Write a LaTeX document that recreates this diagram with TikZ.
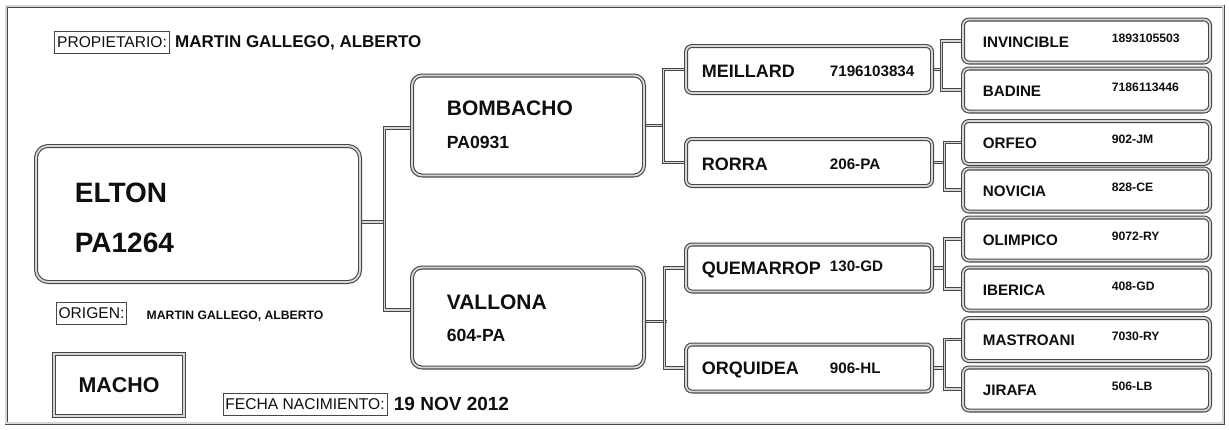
\documentclass[tikz,border=0pt]{standalone}
\usepackage{fontspec}
\setmainfont{Liberation Sans}
\usetikzlibrary{positioning, backgrounds}
\definecolor{rim}{gray}{0.28}
\definecolor{rimfill}{gray}{0.84}
\definecolor{ink}{gray}{0.06}
\tikzstyle{card} = [draw=rim, double=rimfill, double distance=0.9pt, line width=0.55pt, inner sep=0pt, text=ink]
\tikzstyle{foal} = [card, rounded corners=6pt, minimum width=162pt, minimum height=68pt]
\tikzstyle{sire} = [card, rounded corners=5pt, minimum width=116pt, minimum height=50pt]
\tikzstyle{grand} = [card, rounded corners=3pt, minimum width=123pt, minimum height=23.5pt]
\tikzstyle{great} = [card, rounded corners=3pt, minimum width=123.5pt, minimum height=21.5pt]
\tikzstyle{txt} = [inner sep=0pt, text depth=0pt, text=ink]
\tikzstyle{foalname} = [txt, font=\bfseries\fontsize{14}{16}\selectfont]
\tikzstyle{sirename} = [txt, font=\bfseries\fontsize{10.5}{12}\selectfont]
\tikzstyle{sireid} = [txt, font=\bfseries\fontsize{8.8}{10}\selectfont]
\tikzstyle{grandname} = [txt, font=\bfseries\fontsize{9}{10}\selectfont]
\tikzstyle{grandid} = [txt, font=\bfseries\fontsize{7.6}{9}\selectfont]
\tikzstyle{greatname} = [txt, font=\bfseries\fontsize{7.6}{9}\selectfont]
\tikzstyle{greatid} = [txt, font=\bfseries\fontsize{6.1}{7}\selectfont]
\tikzstyle{tag} = [draw=rim, line width=0.5pt, inner xsep=1.2pt, inner ysep=0pt, minimum height=11pt,
    text=ink, font=\fontsize{7.8}{9}\selectfont]
\tikzstyle{link} = [draw=rim, double=rimfill, double distance=0.7pt, line width=0.45pt]
\tikzstyle{pageframe} = [draw=rim, double=rimfill, double distance=0.6pt, line width=0.45pt]

\begin{document}
\begin{tikzpicture}[x=0.5pt, y=-0.5pt]
  \useasboundingbox (0,0) rectangle (1229,429);
  \draw[pageframe] (6,6) rectangle (1223,423);

  % header and footer
  \node (owner) [tag] at (112,42) {PROPIETARIO:};
  \node (ownername) [txt, font=\bfseries\fontsize{8.5}{10}\selectfont, right=2.5pt of owner] {MARTIN GALLEGO, ALBERTO};
  \node (origin) [tag] at (91.5,313) {ORIGEN:};
  \node (originname) [txt, font=\bfseries\fontsize{6.1}{7}\selectfont, right=9.5pt of origin, yshift=-1pt] {MARTIN GALLEGO, ALBERTO};
  \node (sex) [card, minimum width=65pt, minimum height=31pt, font=\bfseries\fontsize{10.7}{12}\selectfont] at (119,385) {MACHO};
  \node (birth) [tag] at (305,404) {FECHA NACIMIENTO:};
  \node (birthdate) [txt, font=\bfseries\fontsize{9.5}{11}\selectfont, right=3pt of birth] {19 NOV 2012};

  % animal
  \node (elton) [foal] at (198,214) {};
  \node (eltonname) [foalname, right=19.5pt of elton.west, yshift=10.5pt] {ELTON};
  \node (eltonid) [foalname, right=19.5pt of elton.west, yshift=-14.5pt] {PA1264};

  % parents
  \node (bombacho) [sire] at (528,125.5) {};
  \node (bombachoname) [sirename, right=17.5pt of bombacho.west, yshift=8.75pt] {BOMBACHO};
  \node (bombachoid) [sireid, right=17.5pt of bombacho.west, yshift=-8.25pt] {PA0931};
  \node (vallona) [sire] at (528,317.5) {};
  \node (vallonaname) [sirename, right=17.5pt of vallona.west, yshift=7.75pt] {VALLONA};
  \node (vallonaid) [sireid, right=17.5pt of vallona.west, yshift=-8.75pt] {604-PA};

  % grandparents
  \node (meillard) [grand] at (809,69.5) {};
  \node (meillardname) [grandname, right=8pt of meillard.west, yshift=-1pt] {MEILLARD};
  \node (meillardid) [grandid, right=72pt of meillard.west, yshift=-1pt] {7196103834};
  \node (rorra) [grand] at (809,162.5) {};
  \node (rorraname) [grandname, right=8pt of rorra.west, yshift=-1pt] {RORRA};
  \node (rorraid) [grandid, right=72pt of rorra.west, yshift=-1pt] {206-PA};
  \node (quemarrop) [grand] at (809,268) {};
  \node (quemarropname) [grandname, right=8pt of quemarrop.west] {QUEMARROP};
  \node (quemarropid) [grandid, right=72pt of quemarrop.west, yshift=1pt] {130-GD};
  \node (orquidea) [grand] at (809,368) {};
  \node (orquideaname) [grandname, right=8pt of orquidea.west] {ORQUIDEA};
  \node (orquideaid) [grandid, right=72pt of orquidea.west] {906-HL};

  % great-grandparents
  \node (invincible) [great] at (1086.5,41) {};
  \node (invinciblename) [greatname, right=10pt of invincible.west, yshift=-0.5pt] {INVINCIBLE};
  \node (invincibleid) [greatid, right=74.5pt of invincible.west, yshift=1.5pt] {1893105503};
  \node (badine) [great] at (1086.5,90) {};
  \node (badinename) [greatname, right=10pt of badine.west, yshift=-0.5pt] {BADINE};
  \node (badineid) [greatid, right=74.5pt of badine.west, yshift=1.5pt] {7186113446};
  \node (orfeo) [great] at (1086.5,142.5) {};
  \node (orfeoname) [greatname, right=10pt of orfeo.west, yshift=-0.5pt] {ORFEO};
  \node (orfeoid) [greatid, right=74.5pt of orfeo.west, yshift=1.5pt] {902-JM};
  \node (novicia) [great] at (1086.5,190) {};
  \node (novicianame) [greatname, right=10pt of novicia.west, yshift=-0.5pt] {NOVICIA};
  \node (noviciaid) [greatid, right=74.5pt of novicia.west, yshift=1.5pt] {828-CE};
  \node (olimpico) [great] at (1086.5,239) {};
  \node (olimpiconame) [greatname, right=10pt of olimpico.west, yshift=-0.5pt] {OLIMPICO};
  \node (olimpicoid) [greatid, right=74.5pt of olimpico.west, yshift=1.5pt] {9072-RY};
  \node (iberica) [great] at (1086.5,289) {};
  \node (ibericaname) [greatname, right=10pt of iberica.west, yshift=-0.5pt] {IBERICA};
  \node (ibericaid) [greatid, right=74.5pt of iberica.west, yshift=1.5pt] {408-GD};
  \node (mastroani) [great] at (1086.5,339.5) {};
  \node (mastroaniname) [greatname, right=10pt of mastroani.west, yshift=-0.5pt] {MASTROANI};
  \node (mastroaniid) [greatid, right=74.5pt of mastroani.west, yshift=1.5pt] {7030-RY};
  \node (jirafa) [great] at (1086.5,389) {};
  \node (jirafaname) [greatname, right=10pt of jirafa.west, yshift=-0.5pt] {JIRAFA};
  \node (jirafaid) [greatid, right=74.5pt of jirafa.west, yshift=1.5pt] {506-LB};

  % brackets
  \begin{scope}[on background layer]
    \draw[link] ([yshift=-4pt]elton.east) -- ++(25,0);
    \draw[link] ([yshift=-1.25pt]bombacho.west) -- ++(-27,0) |- ([yshift=3.75pt]vallona.west);
    \draw[link] (bombacho.east) -- ++(20,0);
    \draw[link] (meillard.west) -- ++(-22,0) |- (rorra.west);
    \draw[link] ([yshift=-2pt]vallona.east) -- ++(22,0);
    \draw[link] (quemarrop.west) -- ++(-21,0) |- (orquidea.west);
    \draw[link] (meillard.east) -- ++(10,0);
    \draw[link] (invincible.west) -- ++(-21,0) |- (badine.west);
    \draw[link] (rorra.east) -- ++(13,0);
    \draw[link] (orfeo.west) -- ++(-18,0) |- (novicia.west);
    \draw[link] (quemarrop.east) -- ++(13,0);
    \draw[link] (olimpico.west) -- ++(-18,0) |- (iberica.west);
    \draw[link] (orquidea.east) -- ++(13,0);
    \draw[link] (mastroani.west) -- ++(-18,0) |- (jirafa.west);
  \end{scope}
\end{tikzpicture}
\end{document}
